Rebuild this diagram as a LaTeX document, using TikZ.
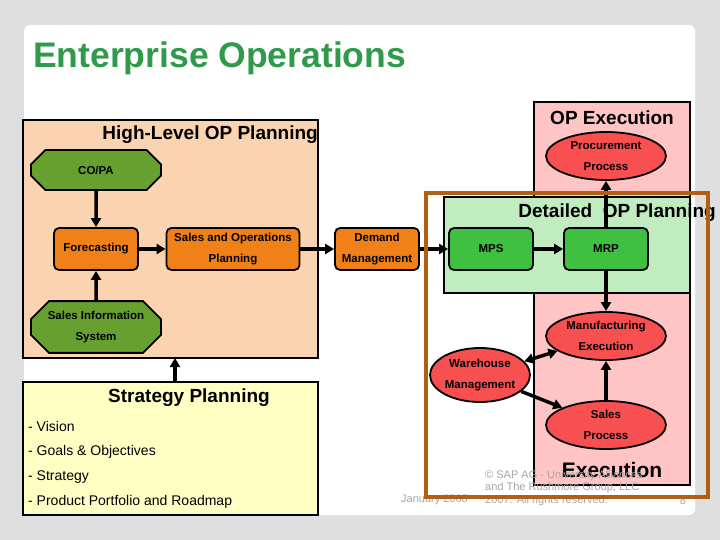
\documentclass[tikz,border=0pt]{standalone}
\usepackage{fontspec}
\setmainfont{Liberation Sans}
\usetikzlibrary{shapes.geometric,shapes.misc,arrows.meta}
\definecolor{peach}{HTML}{FAD4B0}
\definecolor{lgreen}{HTML}{C0ECC0}
\definecolor{lpink}{HTML}{FFC4C4}
\definecolor{lyellow}{HTML}{FFFFC4}
\definecolor{orng}{HTML}{F08018}
\definecolor{olive}{HTML}{68A030}
\definecolor{mgreen}{HTML}{40C040}
\definecolor{redn}{HTML}{F85050}
\definecolor{brown}{HTML}{B06010}
\definecolor{ttl}{HTML}{2E9A4A}
\begin{document}
\begin{tikzpicture}[x=1pt,y=-1pt,
  region/.style={draw=black,line width=1.8pt},
  oct/.style={chamfered rectangle,chamfered rectangle xsep=8pt,chamfered rectangle ysep=10pt,draw=black,line width=1.8pt,fill=olive,minimum width=130pt,minimum height=40pt,align=center,font=\bfseries\fontsize{11.5}{21}\selectfont,inner sep=0pt},
  ob/.style={rounded corners=5pt,draw=black,line width=1.8pt,fill=orng,minimum width=84pt,minimum height=42pt,align=center,font=\bfseries\fontsize{11.5}{21}\selectfont,inner sep=0pt},
  gb/.style={ob,fill=mgreen},
  el/.style={ellipse,draw=black,line width=1.8pt,fill=redn,minimum width=120pt,minimum height=48pt,align=center,font=\bfseries\fontsize{11.5}{21}\selectfont,inner sep=0pt},
  ar/.style={line width=3.5pt,-{Triangle[length=9pt,width=10pt]}},
  rtitle/.style={font=\bfseries\fontsize{19}{22}\selectfont,inner sep=0pt},
  lst/.style={anchor=west,inner sep=0pt,font=\fontsize{14}{16}\selectfont},
  foot/.style={text=gray!70,font=\fontsize{11}{12.5}\selectfont,inner sep=0pt,align=left}]
\useasboundingbox (0,0) rectangle (720,540);
\fill[gray!25] (0,0) rectangle (720,540);
\fill[white,rounded corners=6pt] (24,25) rectangle (695,515);
\node[anchor=west,text=ttl,font=\bfseries\fontsize{35.5}{40}\selectfont,inner sep=0pt] (title) at (33,58) {Enterprise Operations};
% regions
\draw[region,fill=peach] (23,120) rectangle (318,358);
\node[rtitle,anchor=east] (hlt) at (318,135) {High-Level OP Planning};
\draw[region,fill=lpink] (534,102) rectangle (690,485);
\node[rtitle] (opx) at (612,118) {OP Execution};
\draw[region,fill=lyellow] (23,382) rectangle (318,515);
\node[rtitle] (spt) at (189,398) {Strategy Planning};
\node[rtitle,font=\bfseries\fontsize{21}{24}\selectfont] (ex) at (612,470) {Execution};
% procurement
\node[el] (proc) at (606,156) {Procurement\\Process};
\draw[region,fill=lgreen] (444,197) rectangle (690,293);
\node[rtitle,anchor=east] (dop) at (716,213) {Detailed\ \ OP Planning};
% nodes
\node[oct] (copa) at (96,170) {CO/PA};
\node[ob] (fc) at (96,249) {Forecasting};
\node[ob,minimum width=133pt] (sop) at (233,249) {Sales and Operations\\Planning};
\node[oct] (sis) at (96,327) {Sales Information\\System};
\node[ob] (dm) at (377,249) {Demand\\Management};
\node[gb] (mps) at (491,249) {MPS};
\node[gb] (mrp) at (606,249) {MRP};
\node[el] (me) at (606,336) {Manufacturing\\Execution};
\node[el,minimum width=100pt,minimum height=54pt] (wm) at (480,375) {Warehouse\\Management};
\node[el] (sp) at (606,425) {Sales\\Process};
% arrows
\draw[ar] (copa) -- (fc);
\draw[ar] (sis) -- (fc);
\draw[ar] (fc) -- (sop);
\draw[ar] (sop) -- (dm);
\draw[ar] (dm) -- (mps);
\draw[ar] (mps) -- (mrp);
\draw[ar] (mrp) -- (proc);
\draw[ar] (mrp) -- (me);
\draw[ar] (sp) -- (me);
\draw[line width=3.5pt,{Triangle[length=9pt,width=10pt]}-{Triangle[length=9pt,width=10pt]}] (wm) -- (me);
\draw[ar] (wm) -- (sp);
\coordinate (stop) at (175,382);
\coordinate (hbot) at (175,358);
\draw[ar] (stop) -- (hbot);
% list
\node[lst] (l1) at (28,426) {- Vision};
\node[lst] (l2) at (28,452) {- Goals \& Objectives};
\node[lst] (l3) at (28,477) {- Strategy};
\node[lst] (l4) at (28,502) {- Product Portfolio and Roadmap};
% footer
\node[foot,anchor=west] (date) at (401,500) {January 2008};
\node[foot,anchor=north west] (copy) at (485,470) {© SAP AG - University Alliances\\and The Rushmore Group, LLC\\2007. All rights reserved.};
\node[foot] (pg) at (683,501) {8};
% brown frame
\draw[brown,line width=3.5pt] (426,193) rectangle (708,497);
\end{tikzpicture}
\end{document}
